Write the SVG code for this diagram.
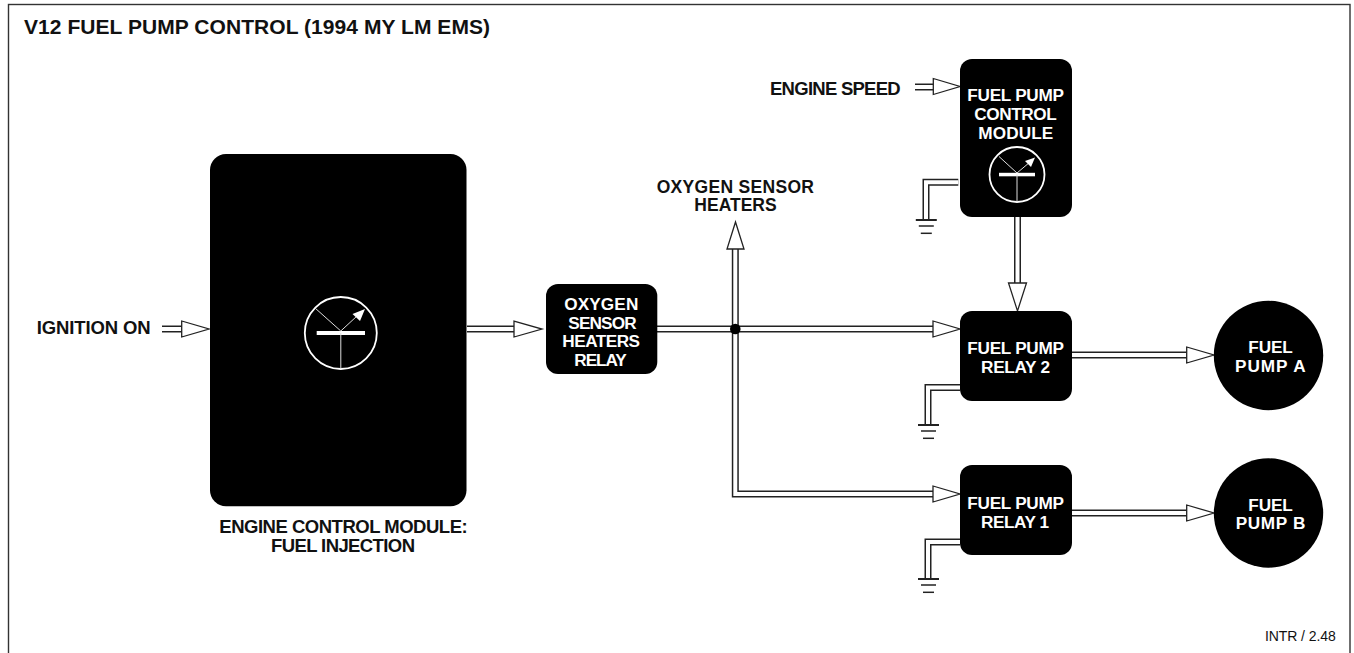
<svg xmlns="http://www.w3.org/2000/svg" width="1354" height="653" viewBox="0 0 1354 653">
<style>
text{font-family:"Liberation Sans",Arial,sans-serif;font-weight:700;font-size:18.500px;fill:#111}
.w{fill:#fff;font-size:17.200px}
.box{fill:#000}
.o{fill:none;stroke:#222;stroke-width:7;stroke-linejoin:miter}
.i{fill:none;stroke:#fff;stroke-width:4;stroke-linejoin:miter}
.h{fill:#fff;stroke:#222;stroke-width:1.300;stroke-linejoin:miter}
.g{stroke:#222;fill:none}
.m{fill:none;stroke:#fff;stroke-width:1.800}
.n{stroke:#ddd;stroke-width:1;fill:none}
</style>
<defs>
<g id="gnd"><path class="g" stroke-width="2" d="M-10.500 0H10.500"/><path class="g" stroke-width="1.500" d="M-7.500 6H7.500"/><path class="g" stroke-width="1.500" d="M-5.500 13.300H5.500"/></g>
</defs>
<rect x="8.500" y="4.500" width="1341.500" height="660" fill="#fff" stroke="#333" stroke-width="1.400"/>
<text x="24" y="34" style="font-size:21px" textLength="466">V12 FUEL PUMP CONTROL (1994 MY LM EMS)</text>
<g id="connectors">
<path class="o" d="M162 329H184"/><path class="i" d="M162 329H184"/><path class="h" d="M181.700 321V337L209 329Z"/>
<path class="o" d="M467 329H516"/><path class="i" d="M467 329H516"/><path class="h" d="M514 321V337L542 329Z"/>
<path class="o" d="M915 87H935"/><path class="i" d="M915 87H935"/><path class="h" d="M933.300 78.500V94.500L960 86.500Z"/>
<path class="o" d="M657 329H935M735.300 247V494H935"/><path class="i" d="M657 329H935M735.300 247V494H935"/>
<path class="h" d="M933 321V337L960 329Z"/><path class="h" d="M933 486V502L960 494Z"/><path class="h" d="M727 249H744L735.500 222Z"/>
<circle cx="735.300" cy="329" r="5.300" fill="#000"/>
<path class="o" d="M1017.500 217V285"/><path class="i" d="M1017.500 217V285"/><path class="h" d="M1008.500 283H1026.500L1017.500 311Z"/>
<path class="o" d="M1072 355H1189"/><path class="i" d="M1072 355H1189"/><path class="h" d="M1186.700 347V363L1214 355Z"/>
<path class="o" d="M1072 513H1189"/><path class="i" d="M1072 513H1189"/><path class="h" d="M1186.700 505V521L1214 513Z"/>
<path class="o" d="M958.300 182.300H926V220"/><path class="i" d="M958.300 182.300H926V220"/><use href="#gnd" x="926.300" y="220"/>
<path class="o" d="M960 387.500H928V425"/><path class="i" d="M960 387.500H928V425"/><use href="#gnd" x="928.500" y="425"/>
<path class="o" d="M960 542H928V579"/><path class="i" d="M960 542H928V579"/><use href="#gnd" x="928.500" y="579"/>
</g>
<g id="ecm"><rect class="box" x="210" y="154" width="256.500" height="352.300" rx="16"/>
<circle class="m" cx="340.800" cy="333" r="36"/><rect x="316.700" y="331" width="48.300" height="4" fill="#fff"/>
<path class="n" d="M340.800 333V369M340.800 331L315 308M340.800 331L357 316"/><path fill="#fff" d="M365 309L360 321L352.500 314Z"/></g>
<g id="ecm-label"><text x="219.300" y="533" textLength="248.400">ENGINE CONTROL MODULE:</text><text x="271" y="552" textLength="144">FUEL INJECTION</text></g>
<g id="ignition"><text x="36.700" y="334.300" textLength="114">IGNITION ON</text></g>
<g id="relay-o2"><rect class="box" x="546" y="284" width="111.300" height="90" rx="12"/>
<text class="w" x="564.300" y="310" textLength="74">OXYGEN</text><text class="w" x="568.300" y="328.700" textLength="68.400">SENSOR</text><text class="w" x="562.300" y="347.300" textLength="77.700">HEATERS</text><text class="w" x="574.300" y="366" textLength="52.400">RELAY</text></g>
<g id="o2-heaters"><text x="656.700" y="193" style="font-size:17.500px" textLength="157.300">OXYGEN SENSOR</text><text x="694.300" y="211" style="font-size:17.500px" textLength="82.400">HEATERS</text></g>
<g id="engine-speed"><text x="770" y="94.700" textLength="130.700">ENGINE SPEED</text></g>
<g id="control-module"><rect class="box" x="960" y="59" width="112" height="158" rx="12"/>
<text class="w" x="967.300" y="100.700" textLength="96.700">FUEL PUMP</text><text class="w" x="974.300" y="120" textLength="82.400">CONTROL</text><text class="w" x="978.300" y="139" textLength="75">MODULE</text>
<circle class="m" cx="1017" cy="174.500" r="27.500"/><rect x="999" y="172.800" width="36" height="3.500" fill="#fff"/>
<path class="n" d="M1017 174.500V202M1017 173L999 156.500M1017 173L1030 162"/><path fill="#fff" d="M1035 157.500L1031 167L1025 161Z"/></g>
<g id="relay-2"><rect class="box" x="960" y="311" width="112" height="90" rx="12"/>
<text class="w" x="967.300" y="354" textLength="96.700">FUEL PUMP</text><text class="w" x="981" y="372.700" textLength="69">RELAY 2</text></g>
<g id="relay-1"><rect class="box" x="960" y="465" width="112" height="90" rx="12"/>
<text class="w" x="967.300" y="509" textLength="96.700">FUEL PUMP</text><text class="w" x="981" y="527.700" textLength="68">RELAY 1</text></g>
<g id="pump-a"><circle cx="1268.500" cy="355.500" r="54.700" fill="#000"/><text class="w" x="1248.300" y="352.700" textLength="44.400">FUEL</text><text class="w" x="1235" y="371.700" textLength="70.700">PUMP A</text></g>
<g id="pump-b"><circle cx="1268.500" cy="513" r="54.700" fill="#000"/><text class="w" x="1248.300" y="510.700" textLength="44.400">FUEL</text><text class="w" x="1235.700" y="529.300" textLength="69.600">PUMP B</text></g>
<text x="1265" y="641.300" style="font-weight:400;font-size:14px" textLength="70.700">INTR / 2.48</text>
</svg>
